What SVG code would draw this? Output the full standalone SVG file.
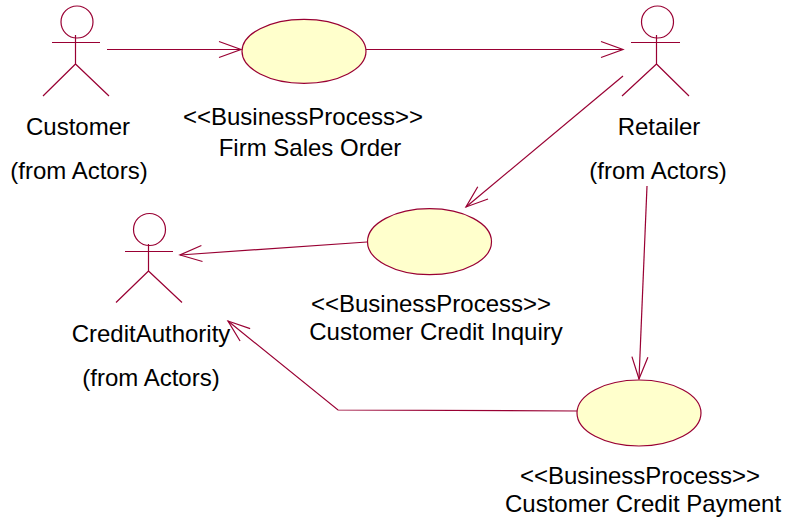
<svg xmlns="http://www.w3.org/2000/svg" width="785" height="517" viewBox="0 0 785 517">
<defs><marker id="a" markerUnits="userSpaceOnUse" markerWidth="26" markerHeight="20" refX="23" refY="10" orient="auto"><path d="M1 2L23 10L1 18" fill="none" stroke="#990033" stroke-width="1.2"/></marker></defs>
<style>
.l{fill:none;stroke:#990033;stroke-width:1.2}
.e{fill:#ffffcc;stroke:#990033;stroke-width:1.2}
text{font-family:"Liberation Sans",Arial,sans-serif;font-size:24px;fill:#000;text-anchor:middle}
</style>
<rect width="785" height="517" fill="#fff"/>
<g id="connectors">
<path class="l" marker-end="url(#a)" d="M107 49.500H241"/>
<path class="l" marker-end="url(#a)" d="M366 49.500H623"/>
<path class="l" marker-end="url(#a)" d="M623 76L466 207"/>
<path class="l" marker-end="url(#a)" d="M367 242L180 255"/>
<path class="l" marker-end="url(#a)" d="M647 186L639 379"/>
<path class="l" marker-end="url(#a)" d="M577 411L338 410L228 321"/>
</g>
<g id="customer"><circle class="l" cx="77" cy="22" r="16"/><path class="l" d="M75.500 35V64M52 42.500H100M75.500 64L43 96M75.500 64L109 96"/><text x="78" y="135">Customer</text><text x="79" y="179">(from Actors)</text></g>
<g id="retailer"><circle class="l" cx="657.500" cy="22" r="16"/><path class="l" d="M656.500 35V64M631 42.500H680M656.500 64L622 96M656.500 64L689 96"/><text x="659" y="135">Retailer</text><text x="658" y="179">(from Actors)</text></g>
<g id="creditauthority"><circle class="l" cx="149.500" cy="229.500" r="16"/><path class="l" d="M148.500 244V271M125 251.500H173M148.500 271L116 302.500M148.500 271L182 302.500"/><text x="151" y="342">CreditAuthority</text><text x="151" y="386">(from Actors)</text></g>
<g id="firm-sales-order"><ellipse class="e" cx="304" cy="51.300" rx="62" ry="32"/><text x="303" y="125">&lt;&lt;BusinessProcess&gt;&gt;</text><text x="310" y="156">Firm Sales Order</text></g>
<g id="customer-credit-inquiry"><ellipse class="e" cx="429.500" cy="241.700" rx="62" ry="33"/><text x="431" y="312">&lt;&lt;BusinessProcess&gt;&gt;</text><text x="436" y="340">Customer Credit Inquiry</text></g>
<g id="customer-credit-payment"><ellipse class="e" cx="639" cy="413" rx="62" ry="33"/><text x="640" y="484">&lt;&lt;BusinessProcess&gt;&gt;</text><text x="643" y="512">Customer Credit Payment</text></g>
</svg>
